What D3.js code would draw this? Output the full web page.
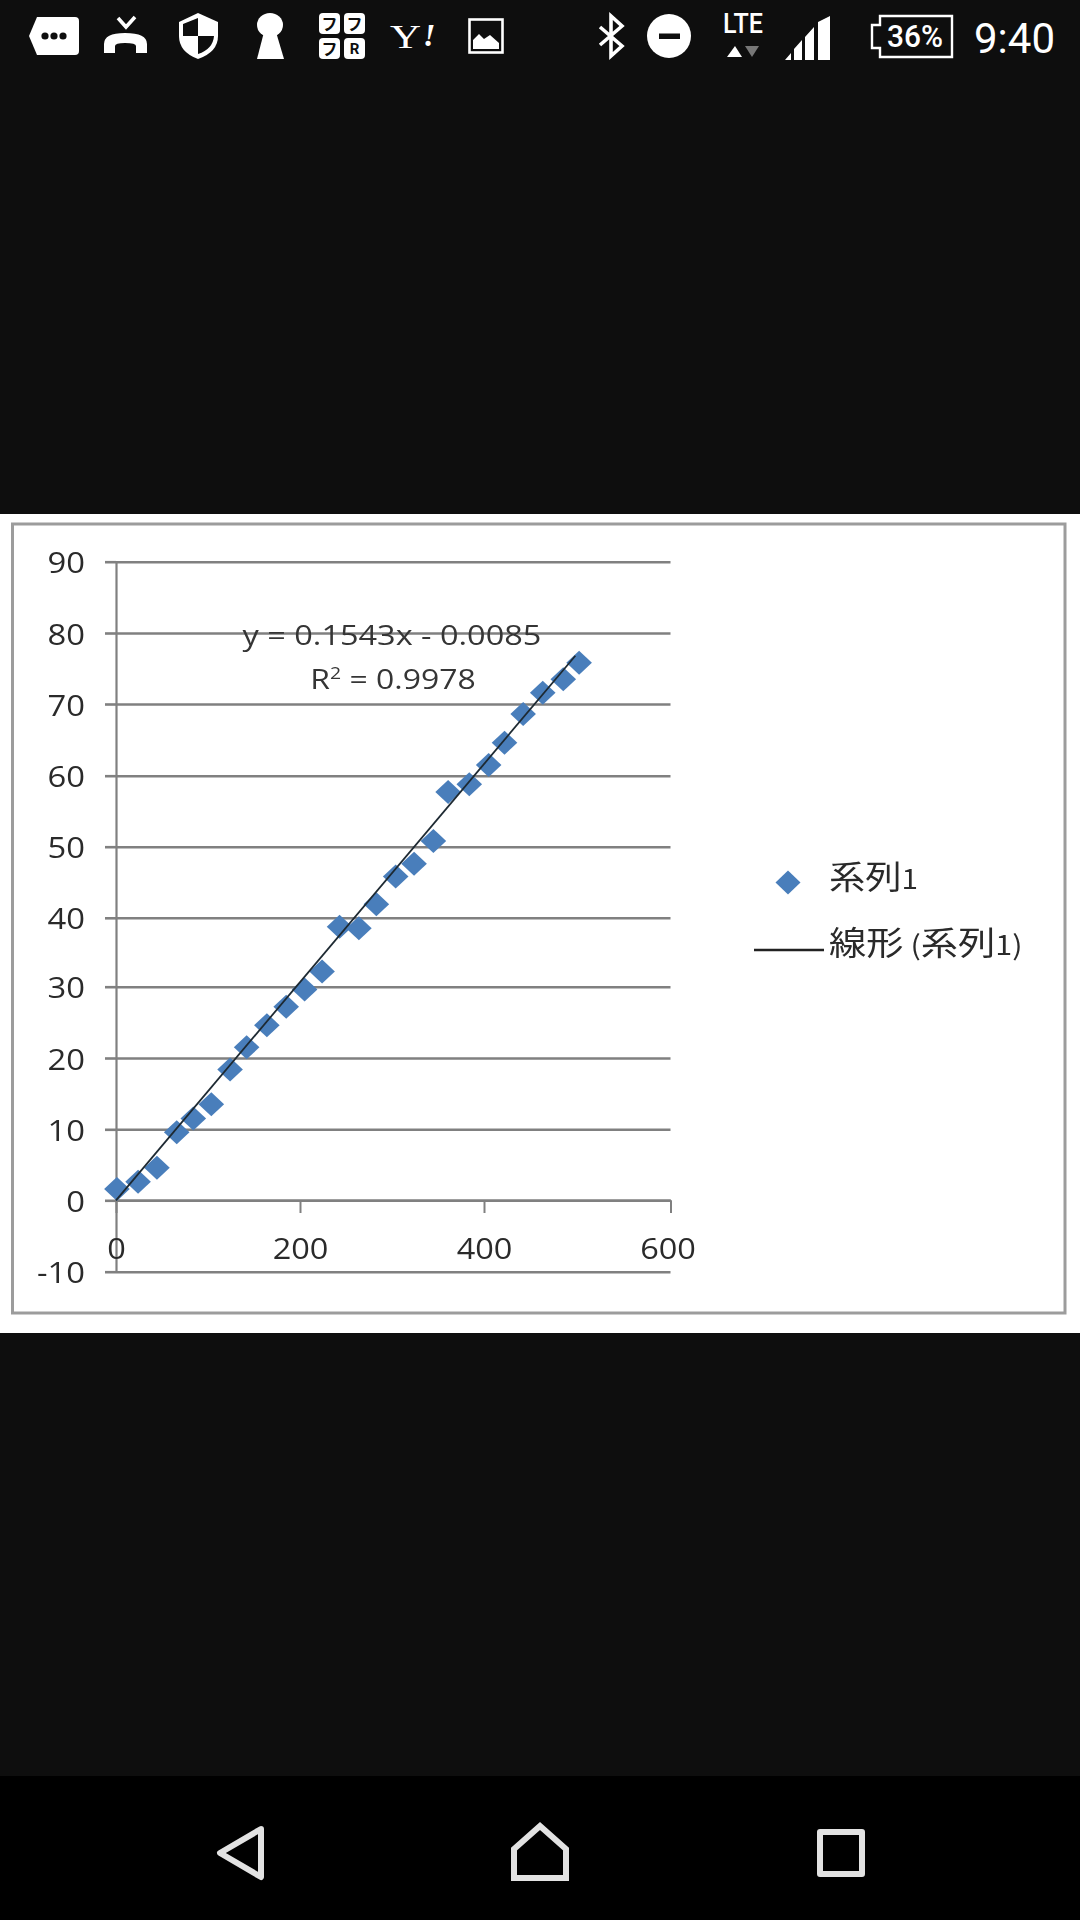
<!DOCTYPE html>
<html><head><meta charset="utf-8">
<script src="https://cdn.jsdelivr.net/npm/d3@7"></script>
<style>html,body{margin:0;padding:0;background:#0e0e0e}svg{display:block}</style>
</head><body><svg id="c" width="1080" height="1920" viewBox="0 0 1080 1920"></svg>
<script>
const xValues=[1,24,44.5,66,84,103.6,124,142,164,185,205,224,243,264,283,304,324,345,361,384,405,422,442,463,485,502];
const yValues=[1.6,2.6,4.6,9.6,11.5,13.5,18.4,21.5,24.6,27.2,29.6,32.2,38.7,38.5,41.9,45.8,47.6,50.8,57.7,58.8,61.5,64.6,68.6,71.6,73.5,75.8];
const trendX=[0,498];
const trendY=[0,76.8];
const xTicks=[0,200,400,600];
const yTicks=[-10,0,10,20,30,40,50,60,70,80,90];
const equationLine="y = 0.1543x - 0.0085";
const seriesName="系列1";

const svg=d3.select("#c");
const FG="#fff",LAT='"Open Sans","Noto Sans",sans-serif',CJK='"Noto Sans CJK JP","Noto Sans CJK SC",sans-serif';
const stretch=(sel,k)=>sel.each(function(){const l=this.getComputedTextLength();d3.select(this).attr("textLength",l*k).attr("lengthAdjust","spacingAndGlyphs");});

svg.append("rect").attr("width",1080).attr("height",1920).attr("fill","#0e0e0e");
svg.append("rect").attr("y",1776).attr("width",1080).attr("height",144).attr("fill","#000");
svg.append("rect").attr("y",514).attr("width",1080).attr("height",819).attr("fill","#fff");

const defs=svg.append("defs");
defs.append("filter").attr("id","soft").attr("x","-5%").attr("y","-5%").attr("width","110%").attr("height","110%")
  .append("feGaussianBlur").attr("stdDeviation",0.6);

const chart=svg.append("g").attr("filter","url(#soft)");
chart.append("rect").attr("x",12.5).attr("y",524).attr("width",1052.5).attr("height",789)
  .attr("fill","#fff").attr("stroke","#9c9c9c").attr("stroke-width",3);

const x=d3.scaleLinear().domain(xTicks).range([116,300,484,670.5]);
const y=d3.scaleLinear().domain(yTicks).range([1271.7,1200.3,1129.3,1058,986.7,917.8,846.7,775.7,704,633,561.7]);

// gridlines
const grid=chart.append("g").attr("transform",`translate(${x(0)},0)`)
  .call(d3.axisRight(y).tickValues(yTicks).tickSize(x(600)-x(0)).tickFormat(""));
grid.select(".domain").remove();
grid.selectAll("line").attr("stroke","#808080").attr("stroke-width",2.6);

// y axis
const ya=chart.append("g").attr("transform",`translate(${x(0)},0)`)
  .call(d3.axisLeft(y).tickValues(yTicks).tickSizeInner(11).tickSizeOuter(0).tickPadding(20).tickFormat(d=>String(d)));
ya.select(".domain").attr("stroke","#808080").attr("stroke-width",2.2);
ya.selectAll("line").attr("stroke","#808080").attr("stroke-width",2.6);
const yt=ya.selectAll("text").attr("dy",0).attr("y",11).attr("fill","#2c2c2c")
  .attr("font-family",LAT).attr("font-size",29);

// x axis
const xa=chart.append("g").attr("transform",`translate(0,${y(0)})`)
  .call(d3.axisBottom(x).tickValues(xTicks).tickSizeInner(12.7).tickSizeOuter(0));
xa.select(".domain").attr("stroke","#808080").attr("stroke-width",2.6);
xa.selectAll("line").attr("stroke","#808080").attr("stroke-width",2);
const xt=xa.selectAll("text").attr("dy",0).attr("x",d=>d===600?-3:0).attr("y",59).attr("fill","#2c2c2c")
  .attr("font-family",LAT).attr("font-size",29);

// markers
const diamond="M0,-12L12.8,0L0,12L-12.8,0Z";
chart.append("g").selectAll("path").data(xValues).join("path")
  .attr("d",diamond)
  .attr("transform",(d,i)=>`translate(${x(d)},${y(yValues[i])})`)
  .attr("fill","#4a7ebb");

// trend line
chart.append("path").datum(trendX.map((d,i)=>[d,trendY[i]]))
  .attr("d",d3.line().x(d=>x(d[0])).y(d=>y(d[1])))
  .attr("fill","none").attr("stroke","#1f2a33").attr("stroke-width",1.8);

// equation
const eq=chart.append("text").attr("x",392).attr("y",645).attr("text-anchor","middle")
  .attr("fill","#363636").attr("font-family",LAT).attr("font-size",28).text(equationLine);
const r2=chart.append("text").attr("x",393).attr("y",689).attr("text-anchor","middle")
  .attr("fill","#363636").attr("font-family",LAT).attr("font-size",28);
r2.append("tspan").text("R");
r2.append("tspan").attr("dy",-10).attr("font-size",17).text("2");
r2.append("tspan").attr("dy",10).text(" = 0.9978");

// legend
chart.append("path").attr("d","M0,-12L12.5,0L0,12L-12.5,0Z").attr("transform","translate(788,882.5)").attr("fill","#4a7ebb");
chart.append("line").attr("x1",754).attr("x2",824).attr("y1",950).attr("y2",950).attr("stroke","#222").attr("stroke-width",2.4);
const lg1=chart.append("text").attr("transform","translate(829,888.5) scale(1.1,1)").attr("fill","#2c2c2c").attr("font-family",CJK).attr("font-size",33);
lg1.append("tspan").text("系列");
lg1.append("tspan").attr("font-size",27).text("1");
const lg2=chart.append("text").attr("transform","translate(829,954.5) scale(1.13,1)").attr("fill","#2c2c2c").attr("font-family",CJK).attr("font-size",33);
lg2.append("tspan").text("線形");
lg2.append("tspan").attr("font-size",27).text(" (");
lg2.append("tspan").text("系列");
lg2.append("tspan").attr("font-size",27).text("1)");

stretch(yt,1.13);stretch(xt,1.12);stretch(eq,1.16);stretch(r2.selectAll("tspan"),1.14);

// status bar
const sb=svg.append("g").attr("fill",FG);
// message
sb.append("path").attr("d","M37,17H75Q79,17 79,21V51Q79,55 75,55H37L29,36Z");
[45,54,63].forEach(cx=>sb.append("circle").attr("cx",cx).attr("cy",36).attr("r",3.6).attr("fill","#0e0e0e"));
// missed call
sb.append("path").attr("d","M104,53V44Q104,33 125,33Q147,33 147,44V53H136V46Q136,43 125,43Q115,43 115,46V53Z");
sb.append("path").attr("d","M118,18L126,27L135,17").attr("fill","none").attr("stroke",FG).attr("stroke-width",3.6);
// shield
sb.append("path").attr("d","M198,13L218,22V36Q218,52 198,59Q179,52 179,36V22Z");
sb.append("path").attr("d","M198,18V36H183V24Z M198,36H214Q213,49 198,54Z").attr("fill","#0e0e0e");
// keyhole
sb.append("ellipse").attr("cx",270).attr("cy",25).attr("rx",13).attr("ry",12);
sb.append("path").attr("d","M264,32H276L284,59H257Z");
// app grid
[[319,13],[344,13],[319,38],[344,38]].forEach(p=>sb.append("rect").attr("x",p[0]).attr("y",p[1]).attr("width",21).attr("height",21).attr("rx",4));
const gl=svg.append("g").attr("fill","#0e0e0e").attr("font-family",'"Noto Sans CJK JP"').attr("font-weight",700).attr("font-size",16).attr("text-anchor","middle");
gl.append("text").attr("x",329.5).attr("y",30).text("フ");
gl.append("text").attr("x",354.5).attr("y",30).text("フ");
gl.append("text").attr("x",329.5).attr("y",55).text("フ");
gl.append("text").attr("x",354.5).attr("y",54).attr("font-family","Roboto").attr("font-size",15).text("R");
// Y!
sb.append("text").attr("x",390).attr("y",48).attr("font-family",'"Liberation Serif"').attr("font-size",34).text("Y").attr("textLength",31).attr("lengthAdjust","spacingAndGlyphs");
sb.append("text").attr("x",423).attr("y",46).attr("font-family",'"Liberation Serif"').attr("font-style","italic").attr("font-weight",700).attr("font-size",32).text("!");
// image
sb.append("rect").attr("x",469.5).attr("y",19.5).attr("width",33).attr("height",33).attr("fill","none").attr("stroke",FG).attr("stroke-width",2.6);
sb.append("path").attr("d","M473,49V40L479,34L484,39L490,35L499,43V49Z");
// bluetooth
sb.append("path").attr("d","M600,27L622,46L611,56V16L622,26L600,45").attr("fill","none").attr("stroke",FG).attr("stroke-width",3.6);
// dnd
sb.append("circle").attr("cx",669).attr("cy",36).attr("r",22);
sb.append("rect").attr("x",659).attr("y",33.5).attr("width",21).attr("height",5.5).attr("fill","#0e0e0e");
// LTE
sb.append("text").attr("x",743).attr("y",33).attr("text-anchor","middle").attr("font-family","Roboto").attr("font-weight",500).attr("font-size",27).text("LTE").attr("textLength",40).attr("lengthAdjust","spacingAndGlyphs");
sb.append("path").attr("d","M735,46L742,57H727Z");
sb.append("path").attr("d","M745,46H759L752,57Z").attr("fill","#777");
// signal
sb.append("path").attr("d","M785,60L791,53V60Z M794,60V49L802,40V60Z M805,60V37L814,27V60Z M818,60V22L830,16V60Z");
// battery
sb.append("path").attr("d","M880,16H952V57H880V48H872V25H880Z").attr("fill","none").attr("stroke",FG).attr("stroke-width",2.4);
sb.append("text").attr("x",915).attr("y",47).attr("text-anchor","middle").attr("font-family","Roboto").attr("font-weight",500).attr("font-size",31).text("36%").attr("textLength",56).attr("lengthAdjust","spacingAndGlyphs");
// time
sb.append("text").attr("x",1014.5).attr("y",53).attr("text-anchor","middle").attr("font-family","Roboto").attr("font-weight",400).attr("font-size",43).text("9:40").attr("textLength",81).attr("lengthAdjust","spacingAndGlyphs");

// navigation bar
const nav=svg.append("g").attr("fill","none").attr("stroke","#e2e2e2").attr("stroke-width",6).attr("stroke-linejoin","round");
nav.append("path").attr("d","M261,1829L220,1853L261,1877Z");
nav.append("path").attr("d","M540,1826L514,1849V1878H566V1849Z").attr("stroke-linejoin","miter");
nav.append("rect").attr("x",820).attr("y",1832).attr("width",42).attr("height",42);
</script></body></html>
